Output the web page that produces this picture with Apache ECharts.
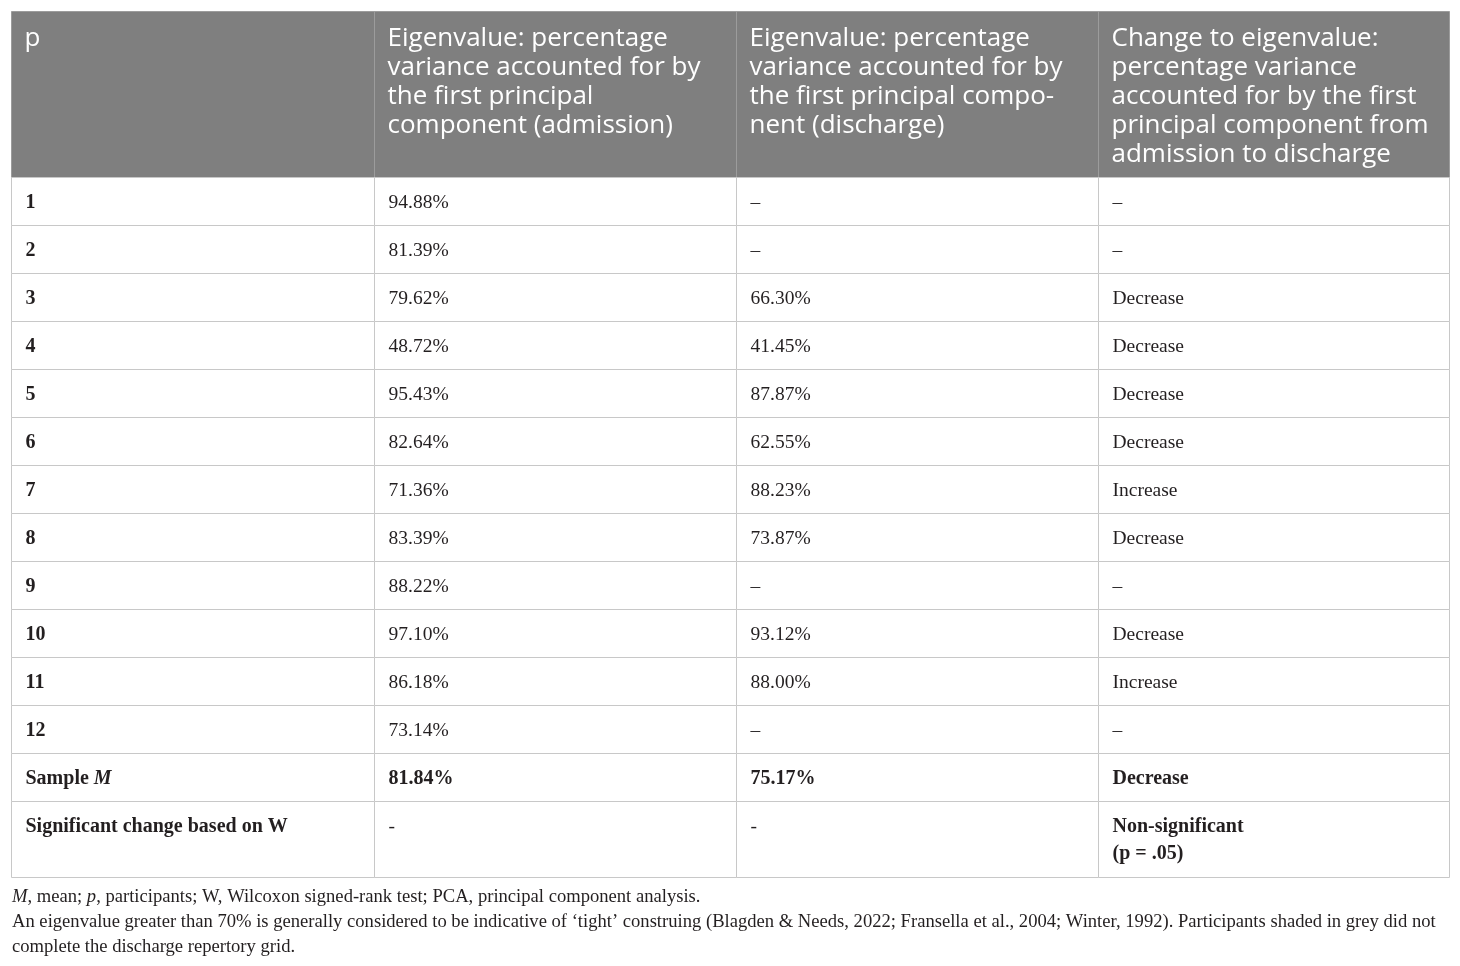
<!DOCTYPE html>
<html>
<head>
<meta charset="utf-8">
<script src="https://cdn.jsdelivr.net/npm/echarts@6/dist/echarts.min.js"></script>
<style>
  html, body { margin: 0; padding: 0; background: #ffffff; }
  #main { width: 1460px; height: 966px; }
</style>
</head>
<body>
<div id="main"></div>
<script>
// table contents
var headers = [
  'p',
  'Eigenvalue: percentage\nvariance accounted for by\nthe first principal\ncomponent (admission)',
  'Eigenvalue: percentage\nvariance accounted for by\nthe first principal compo-\nnent (discharge)',
  'Change to eigenvalue:\npercentage variance\naccounted for by the first\nprincipal component from\nadmission to discharge'
];
var participants = ['1', '2', '3', '4', '5', '6', '7', '8', '9', '10', '11', '12'];
var admission = [94.88, 81.39, 79.62, 48.72, 95.43, 82.64, 71.36, 83.39, 88.22, 97.10, 86.18, 73.14];
var discharge = [null, null, 66.30, 41.45, 87.87, 62.55, 88.23, 73.87, null, 93.12, 88.00, null];
var change = ['–', '–', 'Decrease', 'Decrease', 'Decrease', 'Decrease', 'Increase', 'Decrease', '–', 'Decrease', 'Increase', '–'];
var meanAdmission = 81.84;
var meanDischarge = 75.17;
var meanChange = 'Decrease';
var significance = ['-', '-', 'Non-significant\n(p = .05)'];

// layout (table units = pixels inside the grid)
var colEdges = [0, 363, 725, 1087, 1438];
var rowHeights = [166, 48, 48, 48, 48, 48, 48, 48, 48, 48, 48, 48, 48, 48, 76];
var rowEdges = [0];
rowHeights.forEach(function (h) { rowEdges.push(rowEdges[rowEdges.length - 1] + h); });
var tableH = rowEdges[rowEdges.length - 1];

function pct(v) { return v == null ? '–' : v.toFixed(2) + '%'; }

// build cell list: [col, row, text, kind]
var cells = [];
headers.forEach(function (t, c) { cells.push([c, 0, t, 'head']); });
participants.forEach(function (p, i) {
  var r = i + 1;
  cells.push([0, r, '{b|' + p + '}', 'body']);
  cells.push([1, r, pct(admission[i]), 'body']);
  cells.push([2, r, pct(discharge[i]), 'body']);
  cells.push([3, r, change[i], 'body']);
});
var mr = participants.length + 1;
cells.push([0, mr, '{b|Sample }{bi|M}', 'body']);
cells.push([1, mr, '{b|' + pct(meanAdmission) + '}', 'body']);
cells.push([2, mr, '{b|' + pct(meanDischarge) + '}', 'body']);
cells.push([3, mr, '{b|' + meanChange + '}', 'body']);
var sr = mr + 1;
cells.push([0, sr, '{b|Significant change based on W}', 'last']);
cells.push([1, sr, significance[0], 'last']);
cells.push([2, sr, significance[1], 'last']);
cells.push([3, sr, significance[2].split('\n').map(function (s) { return '{b|' + s + '}'; }).join('\n'), 'last']);

var serif = '"Liberation Serif", "Times New Roman", serif';
var sans = '"Open Sans", "Noto Sans", sans-serif';
var ink = '#231f20';
var bodyRich = {
  b: { fontFamily: serif, fontWeight: 'bold', fontSize: 20, fill: ink, lineHeight: 27 },
  bi: { fontFamily: serif, fontWeight: 'bold', fontStyle: 'italic', fontSize: 20, fill: ink, lineHeight: 27 }
};

function renderCell(params, api) {
  var c = api.value(0), r = api.value(1);
  var item = cells[params.dataIndex];
  var p0 = api.coord([colEdges[c], rowEdges[r]]);
  var p1 = api.coord([colEdges[c + 1], rowEdges[r + 1]]);
  var x = Math.round(p0[0]) + 0.5, y = Math.round(p0[1]) + 0.5;
  var w = Math.round(p1[0]) - Math.round(p0[0]), h = Math.round(p1[1]) - Math.round(p0[1]);
  var kind = item[3];
  var head = kind === 'head';
  var text;
  if (head) {
    text = {
      type: 'text', x: x + 13, y: y + 13,
      style: {
        text: item[2], fill: '#ffffff', fontFamily: sans, fontSize: 26,
        lineHeight: 29, verticalAlign: 'top', align: 'left'
      }
    };
  } else if (kind === 'last') {
    text = {
      type: 'text', x: x + 14, y: y + 12,
      style: {
        text: item[2], fill: ink, fontFamily: serif, fontSize: 19.5,
        lineHeight: 27, verticalAlign: 'top', align: 'left', rich: bodyRich
      }
    };
  } else {
    text = {
      type: 'text', x: x + 14, y: y + h / 2 + 1,
      style: {
        text: item[2], fill: ink, fontFamily: serif, fontSize: 19.5,
        verticalAlign: 'middle', align: 'left', rich: bodyRich
      }
    };
  }
  return {
    type: 'group',
    children: [
      {
        type: 'rect',
        shape: { x: x, y: y, width: w, height: h },
        style: { fill: head ? '#7f7f7f' : '#ffffff', stroke: head ? '#9c9c9c' : '#c8c8c8', lineWidth: 1 }
      },
      text
    ]
  };
}

var chart = echarts.init(document.getElementById('main'), null, { renderer: 'canvas' });
var footRich = {
  n: { fontFamily: serif, fontSize: 18.6, fill: ink },
  i: { fontFamily: serif, fontSize: 18.6, fontStyle: 'italic', fill: ink }
};
var option = {
  backgroundColor: '#ffffff',
  animation: false,
  grid: { left: 11, top: 11, width: 1438, height: tableH },
  xAxis: { type: 'value', min: 0, max: colEdges[colEdges.length - 1], show: false },
  yAxis: { type: 'value', min: 0, max: tableH, inverse: true, show: false },
  series: [{
    type: 'custom',
    renderItem: renderCell,
    data: cells.map(function (d) { return [d[0], d[1]]; }),
    silent: true
  }],
  graphic: [
    {
      type: 'text', left: 12, top: 888,
      style: {
        text: '{i|M}{n|, mean; }{i|p}{n|, participants; W, Wilcoxon signed-rank test; PCA, principal component analysis.}',
        rich: footRich
      }
    },
    {
      type: 'text', left: 12, top: 913,
      style: {
        text: '{n|An eigenvalue greater than 70% is generally considered to be indicative of ‘tight’ construing (Blagden & Needs, 2022; Fransella et al., 2004; Winter, 1992). Participants shaded in grey did not}',
        rich: footRich
      }
    },
    {
      type: 'text', left: 12, top: 938,
      style: { text: '{n|complete the discharge repertory grid.}', rich: footRich }
    }
  ]
};
chart.setOption(option);
</script>
</body>
</html>
